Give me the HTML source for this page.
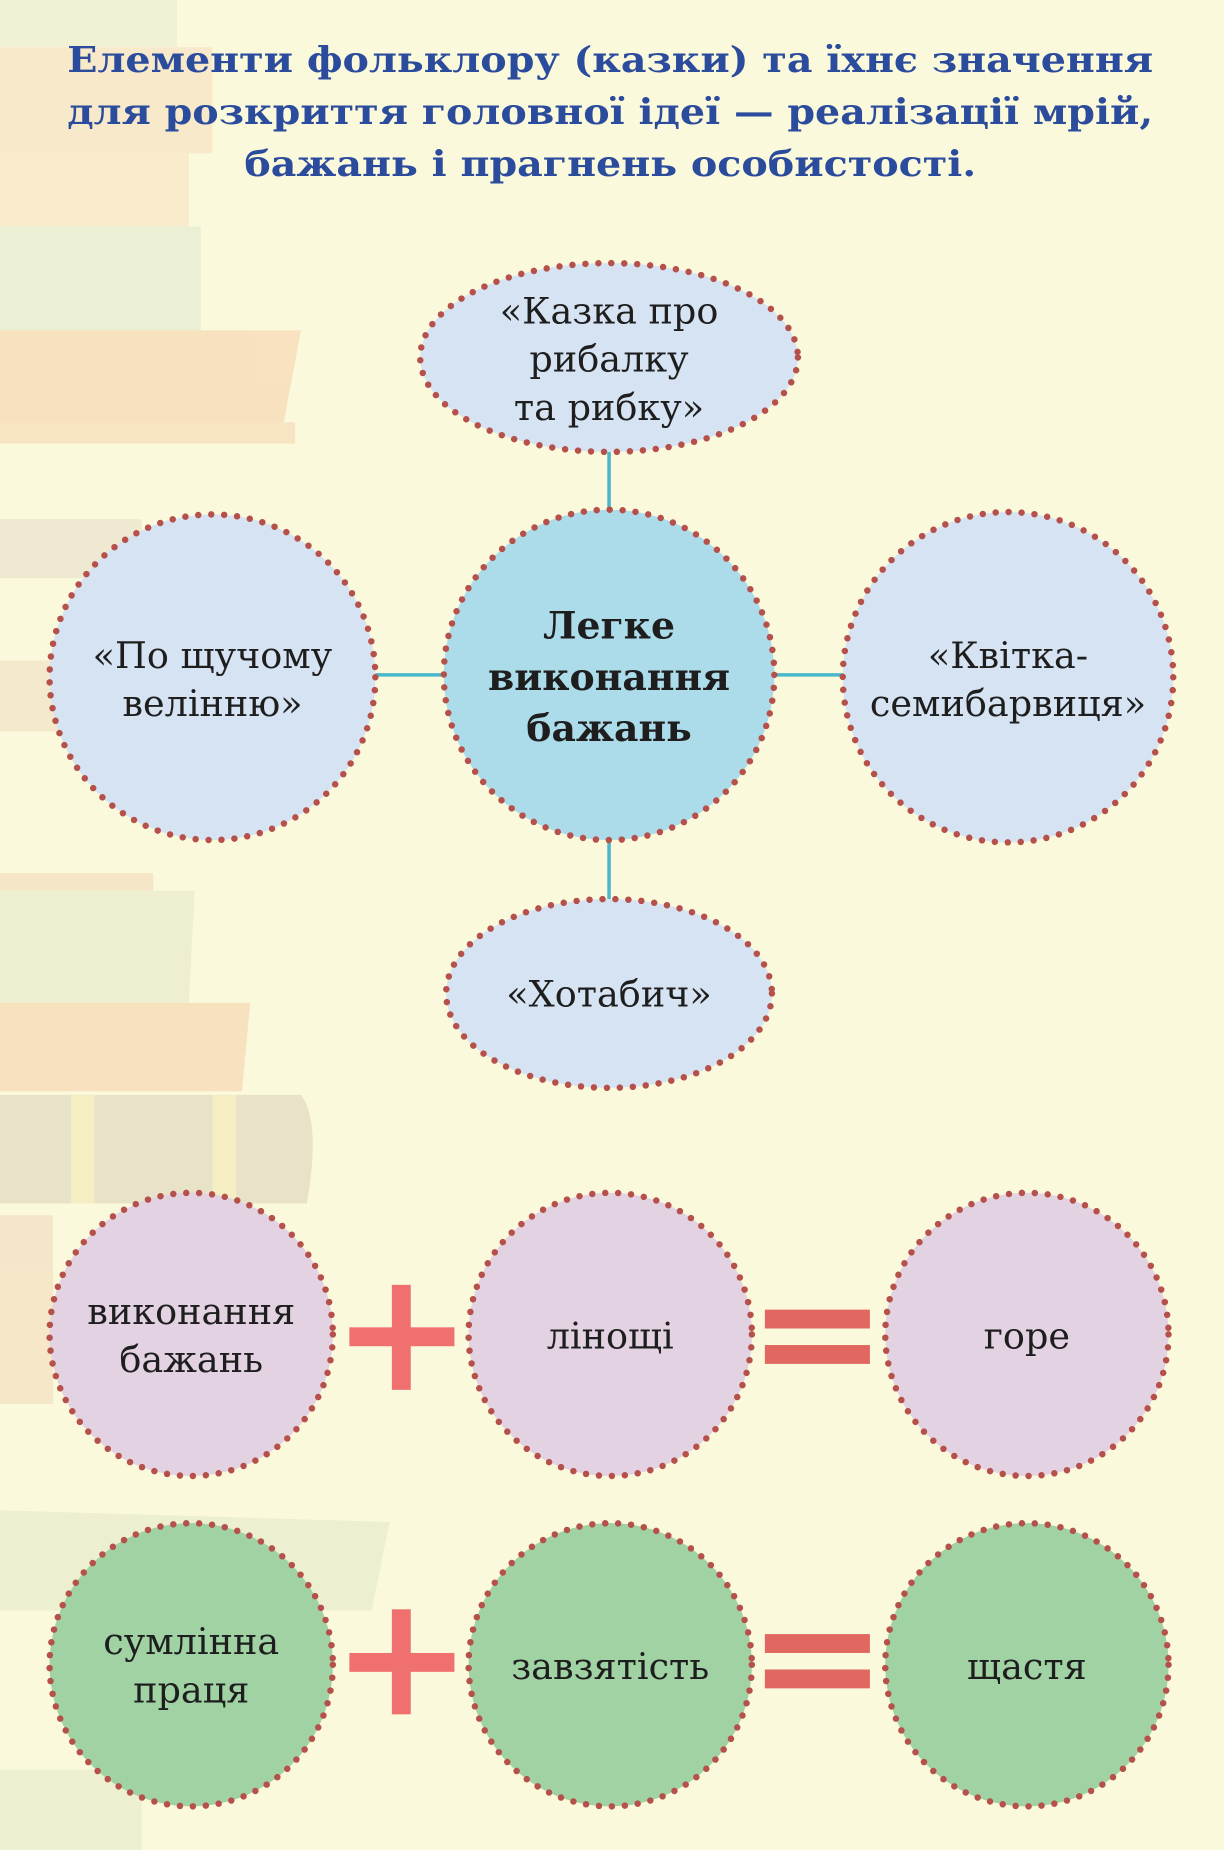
<!DOCTYPE html>
<html><head><meta charset="utf-8"><style>
html,body{margin:0;padding:0;background:#fbf9dc;}
svg{display:block}
</style></head><body>
<svg width="1224" height="1850" viewBox="0 0 1037 1568" preserveAspectRatio="none" xmlns="http://www.w3.org/2000/svg">
<rect width="1037" height="1568" fill="#fbf9dc"/>
<g opacity="0.55">
<rect x="0" y="0" width="150" height="40" fill="#e8ecd0"/>
<rect x="0" y="40" width="180" height="90" fill="#f4dcbc"/>
<rect x="0" y="130" width="160" height="62" fill="#f6e0c0"/>
<rect x="0" y="192" width="170" height="90" fill="#dfe8cc"/>
<polygon points="0,280 255,280 240,360 0,360" fill="#f5cfa8"/>
<rect x="0" y="358" width="250" height="18" fill="#f5d4b0"/>
<rect x="0" y="440" width="120" height="50" fill="#e8dcc8"/>
<rect x="0" y="560" width="60" height="60" fill="#f0dcc0"/>
<rect x="0" y="740" width="130" height="15" fill="#f2d8b8"/>
<polygon points="0,755 165,755 160,850 0,850" fill="#e2e8c8"/>
<polygon points="0,850 212,850 205,925 0,925" fill="#f5cfa8"/>
<path d="M0,928 H255 Q272,950 260,1020 H0 Z" fill="#d8d0b8"/>
<rect x="60" y="928" width="20" height="92" fill="#f2e6b0"/>
<rect x="180" y="928" width="20" height="92" fill="#f2e6b0"/>
<rect x="0" y="1030" width="45" height="160" fill="#f0d8b8"/>
<polygon points="0,1280 330,1290 315,1365 0,1365" fill="#e2e8c8"/>
<rect x="0" y="1500" width="120" height="68" fill="#e2e8c8"/>
</g>
<g font-family="'DejaVu Serif','Liberation Serif',serif" font-weight="bold" fill="#2b4c9c" font-size="30" text-anchor="middle">
<text x="517" y="61" textLength="920" lengthAdjust="spacingAndGlyphs">Елементи фольклору (казки) та їхнє значення</text>
<text x="517" y="105" textLength="920" lengthAdjust="spacingAndGlyphs">для розкриття головної ідеї — реалізації мрій,</text>
<text x="517" y="149" textLength="620" lengthAdjust="spacingAndGlyphs">бажань і прагнень особистості.</text>
</g>
<g stroke="#4ab8cc" stroke-width="3">
<line x1="516" y1="383" x2="516" y2="434"/>
<line x1="516" y1="712" x2="516" y2="764"/>
<line x1="318" y1="572" x2="378" y2="572"/>
<line x1="656" y1="572" x2="715" y2="572"/>
</g>
<g stroke="#b5504a" stroke-width="5.5" stroke-linecap="round" stroke-dasharray="0 11">
<ellipse cx="516" cy="303" rx="160" ry="80" fill="#d6e3f2"/>
<circle cx="516" cy="572" r="140" fill="#acdcea"/>
<circle cx="180" cy="574" r="138" fill="#d6e3f2"/>
<circle cx="854" cy="574" r="140" fill="#d6e3f2"/>
<ellipse cx="516" cy="842" rx="138" ry="80" fill="#d6e3f2"/>
<circle cx="162" cy="1131" r="120" fill="#e2d2e2"/>
<circle cx="517" cy="1131" r="120" fill="#e2d2e2"/>
<circle cx="870" cy="1131" r="120" fill="#e2d2e2"/>
<circle cx="162" cy="1411" r="120" fill="#a0d2a4"/>
<circle cx="517" cy="1411" r="120" fill="#a0d2a4"/>
<circle cx="870" cy="1411" r="120" fill="#a0d2a4"/>
</g>
<g fill="#f07070">
<rect x="296" y="1125" width="89" height="16"/><rect x="332" y="1089" width="16" height="89"/>
<rect x="296" y="1401" width="89" height="16"/><rect x="332" y="1364" width="16" height="89"/>
</g>
<g fill="#e06860">
<rect x="648" y="1110" width="89" height="16"/><rect x="648" y="1140" width="89" height="16"/>
<rect x="648" y="1385" width="89" height="16"/><rect x="648" y="1415" width="89" height="16"/>
</g>
<g font-family="'DejaVu Serif','Liberation Serif',serif" fill="#1e1e1e" font-size="31" text-anchor="middle">
<text x="516" y="274">«Казка про</text>
<text x="516" y="315">рибалку</text>
<text x="516" y="356">та рибку»</text>
<text x="180" y="566">«По щучому</text>
<text x="180" y="607">велінню»</text>
<text x="854" y="566">«Квітка-</text>
<text x="854" y="607">семибарвиця»</text>
<text x="516" y="853">«Хотабич»</text>
<text x="162" y="1122">виконання</text>
<text x="162" y="1163">бажань</text>
<text x="517" y="1143">лінощі</text>
<text x="870" y="1143">горе</text>
<text x="162" y="1402">сумлінна</text>
<text x="162" y="1443">праця</text>
<text x="517" y="1423">завзятість</text>
<text x="870" y="1423">щастя</text>
<g font-weight="bold" font-size="32">
<text x="516" y="541">Легке</text>
<text x="516" y="585">виконання</text>
<text x="516" y="628">бажань</text>
</g>
</g>
</svg>
</body></html>
